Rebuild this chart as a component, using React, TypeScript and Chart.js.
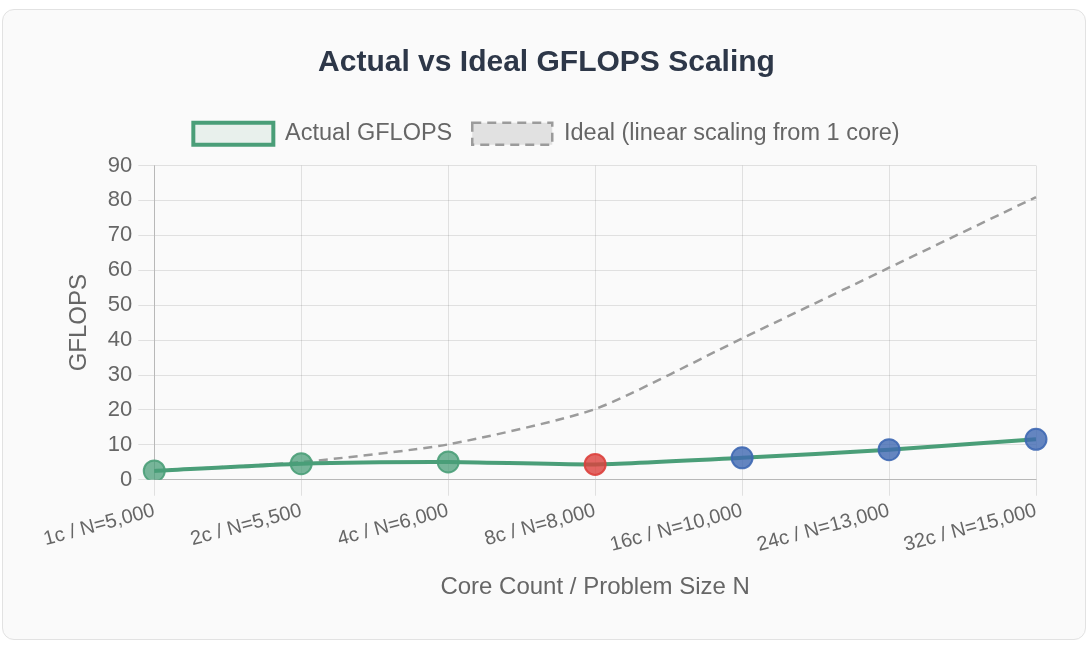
import React, { useEffect, useRef } from "react";
import { Chart, registerables } from "chart.js";

Chart.register(...registerables);

const categories = [
  "1c / N=5,000",
  "2c / N=5,500",
  "4c / N=6,000",
  "8c / N=8,000",
  "16c / N=10,000",
  "24c / N=13,000",
  "32c / N=15,000",
];
const actualGflops = [2.53, 4.6, 5.1, 4.4, 6.3, 8.6, 11.6];
const idealGflops = [2.53, 5.06, 10.12, 20.24, 40.48, 60.72, 80.96];
const pointFill = [
  "rgba(74,158,120,0.75)",
  "rgba(74,158,120,0.75)",
  "rgba(74,158,120,0.75)",
  "rgba(220,64,60,0.8)",
  "rgba(62,104,178,0.8)",
  "rgba(62,104,178,0.8)",
  "rgba(62,104,178,0.8)",
];
const pointBorder = [
  "rgba(74,158,120,0.9)",
  "rgba(74,158,120,0.9)",
  "rgba(74,158,120,0.9)",
  "rgba(220,64,60,0.9)",
  "rgba(62,104,178,0.9)",
  "rgba(62,104,178,0.9)",
  "rgba(62,104,178,0.9)",
];
const yTicks = [0, 10, 20, 30, 40, 50, 60, 70, 80, 90];

const legendSpacer = {
  id: "legendSpacer",
  beforeLayout(chart: any) {
    const lg: any = chart.legend;
    if (lg && !lg._spacerPatched) {
      const orig = lg.fit;
      lg.fit = function () {
        orig.call(this);
        this.height += 10;
      };
      lg._spacerPatched = true;
    }
  },
};

export default function App() {
  const ref = useRef<HTMLCanvasElement | null>(null);
  useEffect(() => {
    if (!ref.current) return;
    Chart.defaults.font.family =
      "'Helvetica Neue', Helvetica, Arial, 'Liberation Sans', sans-serif";
    const chart = new Chart(ref.current, {
      type: "line",
      data: {
        labels: categories,
        datasets: [
          {
            label: "Actual GFLOPS",
            data: actualGflops,
            borderColor: "rgb(74,158,120)",
            backgroundColor: "rgba(74,158,120,0.1)",
            borderWidth: 4,
            tension: 0.2,
            pointRadius: 10.5,
            pointBorderWidth: 2,
            pointBackgroundColor: pointFill,
            pointBorderColor: pointBorder,
            order: 0,
          },
          {
            label: "Ideal (linear scaling from 1 core)",
            data: idealGflops,
            borderColor: "rgb(155,155,155)",
            backgroundColor: "rgba(200,200,200,0.5)",
            borderWidth: 2.5,
            borderDash: [9, 6],
            tension: 0.2,
            pointRadius: 0,
            order: 1,
          },
        ],
      },
      plugins: [legendSpacer],
      options: {
        responsive: true,
        maintainAspectRatio: false,
        animation: false,
        layout: { padding: { left: 54, right: 49, top: 20, bottom: 37 } },
        plugins: {
          title: {
            display: true,
            text: "Actual vs Ideal GFLOPS Scaling",
            color: "#2d3748",
            font: { size: 30, weight: "bold" },
            padding: { top: 15, bottom: 21 },
          },
          legend: {
            labels: {
              boxWidth: 80,
              boxHeight: 22,
              padding: 20,
              color: "#666",
              font: { size: 23.5 },
            },
          },
          tooltip: { enabled: false },
        },
        scales: {
          x: {
            ticks: {
              color: "#666",
              font: { size: 20 },
              minRotation: 15,
              maxRotation: 15,
            },
            grid: { color: "rgba(0,0,0,0.1)", tickLength: 16 },
            border: { color: "rgba(0,0,0,0.18)" },
            title: {
              display: true,
              text: "Core Count / Problem Size N",
              color: "#666",
              font: { size: 24 },
              padding: { top: 13, bottom: 0 },
            },
          },
          y: {
            min: 0,
            max: 90,
            afterBuildTicks: (axis: any) => {
              axis.ticks = yTicks.map((v) => ({ value: v }));
            },
            ticks: { color: "#666", font: { size: 22 }, padding: 6 },
            grid: { color: "rgba(0,0,0,0.1)", tickLength: 16 },
            border: { color: "rgba(0,0,0,0.18)" },
            title: {
              display: true,
              text: "GFLOPS",
              color: "#666",
              font: { size: 24 },
              padding: 8,
            },
          },
        },
      },
    });
    return () => chart.destroy();
  }, []);

  return (
    <div
      style={{
        position: "absolute",
        left: 2,
        top: 9,
        width: 1084,
        height: 631,
        boxSizing: "border-box",
        border: "1px solid #e2e2e2",
        borderRadius: 12,
        background: "#fafafa",
      }}
    >
      <div style={{ position: "relative", width: "100%", height: "100%" }}>
        <canvas ref={ref} />
      </div>
    </div>
  );
}
